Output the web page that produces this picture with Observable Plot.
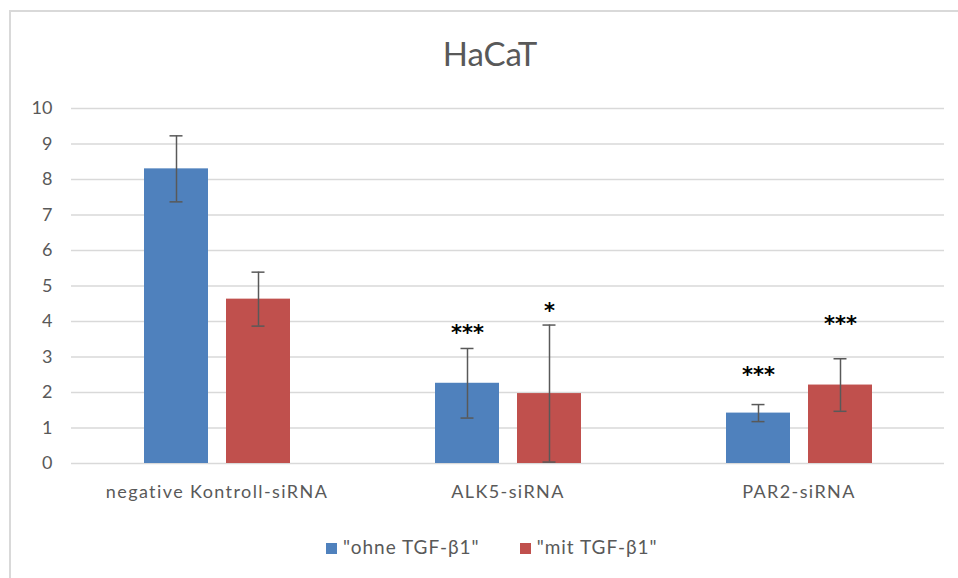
<!DOCTYPE html>
<html>
<head>
<meta charset="utf-8">
<script src="https://cdn.jsdelivr.net/npm/d3@7"></script>
<script src="https://cdn.jsdelivr.net/npm/@observablehq/plot@0.6"></script>
<style>
  html, body { margin: 0; padding: 0; background: #fff; }
  #wrap { position: relative; width: 958px; height: 578px; overflow: hidden; font-family: Lato, "Open Sans", sans-serif; }
  #frame { position: absolute; left: 9px; top: 10px; width: 980px; height: 600px; border-left: 2px solid #d9d9d9; border-top: 2px solid #d9d9d9; box-sizing: border-box; }
  #title { position: absolute; left: 0; width: 980px; top: 33px; text-align: center; font-size: 33px; color: #595959; }
  #legend { position: absolute; left: 326px; top: 535px; white-space: nowrap; font-size: 19px; letter-spacing: 1px; color: #595959; }
  #legend span.item { display: inline-block; margin-right: 40px; }
  #legend span.sw { display: inline-block; width: 11px; height: 11px; margin-right: 6px; vertical-align: 0px; }
  #chart { position: absolute; left: 0; top: 0; }
</style>
</head>
<body>
<div id="wrap">
  <div id="frame"></div>
  <div id="chart"></div>
  <div id="title">HaCaT</div>
  <div id="legend"></div>
</div>
<script>
const categories = ["negative Kontroll-siRNA", "ALK5-siRNA", "PAR2-siRNA"];
const seriesNames = ["\"ohne TGF-β1\"", "\"mit TGF-β1\""];
const seriesColors = ["#4F81BD", "#C0504D"];
const ohneValues = [8.30, 2.26, 1.42];
const ohneErrors = [0.93, 0.98, 0.24];
const mitValues = [4.63, 1.97, 2.21];
const mitErrors = [0.76, 1.93, 0.74];
const ohneStars = ["", "***", "***"];
const mitStars = ["", "*", "***"];
const ohneStarLevels = [null, 3.83, 2.65];
const mitStarLevels = [null, 4.45, 4.08];
const yTicks = [0, 1, 2, 3, 4, 5, 6, 7, 8, 9, 10];

const rows = [];
categories.forEach((c, i) => {
  rows.push({cat: c, series: seriesNames[0], value: ohneValues[i], err: ohneErrors[i], star: ohneStars[i], starY: ohneStarLevels[i]});
  rows.push({cat: c, series: seriesNames[1], value: mitValues[i], err: mitErrors[i], star: mitStars[i], starY: mitStarLevels[i]});
});
const starRows = rows.filter(d => d.star);

const chart = Plot.plot({
  width: 958,
  height: 578,
  marginTop: 108,
  marginBottom: 115,
  marginLeft: 71,
  marginRight: 14,
  style: {fontFamily: "Lato, 'Open Sans', sans-serif", fontSize: "18px", color: "#595959", background: "transparent"},
  fx: {domain: categories, padding: 0, label: null, tickSize: 0, tickPadding: 22},
  x: {domain: seriesNames, paddingInner: 0.22, paddingOuter: 0.88, axis: null},
  y: {domain: [0, 10], ticks: yTicks, label: null, tickSize: 0, tickPadding: 19, tickFormat: d => String(d)},
  color: {domain: seriesNames, range: seriesColors},
  marks: [
    Plot.gridY(yTicks, {stroke: "#d9d9d9", strokeOpacity: 1, strokeWidth: 1.3}),
    Plot.barY(rows, {fx: "cat", x: "series", y: "value", fill: "series"}),
    Plot.ruleX(rows, {fx: "cat", x: "series", y1: d => d.value - d.err, y2: d => d.value + d.err, stroke: "#595959", strokeWidth: 1.5}),
    Plot.tickY(rows, {fx: "cat", x: "series", y: d => d.value + d.err, stroke: "#595959", strokeWidth: 1.5, inset: 25.5}),
    Plot.tickY(rows, {fx: "cat", x: "series", y: d => d.value - d.err, stroke: "#595959", strokeWidth: 1.5, inset: 25.5}),
    Plot.text(starRows, {fx: "cat", x: "series", y: "starY", text: "star", fontSize: 21, fontWeight: "bold", fill: "#000", dy: 6, fontFamily: "DejaVu Sans, sans-serif", letterSpacing: "3px"})
  ]
});
chart.querySelectorAll("[aria-label='fx-axis tick label'] text, [aria-label='fx-axis tick label']").forEach(el => {
  el.style.fontSize = "18px";
  el.style.letterSpacing = "1.4px";
});
document.getElementById("chart").appendChild(chart);

const legend = document.getElementById("legend");
seriesNames.forEach((s, i) => {
  const item = document.createElement("span");
  item.className = "item";
  const sw = document.createElement("span");
  sw.className = "sw";
  sw.style.background = seriesColors[i];
  item.appendChild(sw);
  item.appendChild(document.createTextNode(s));
  legend.appendChild(item);
});
</script>
</body>
</html>
